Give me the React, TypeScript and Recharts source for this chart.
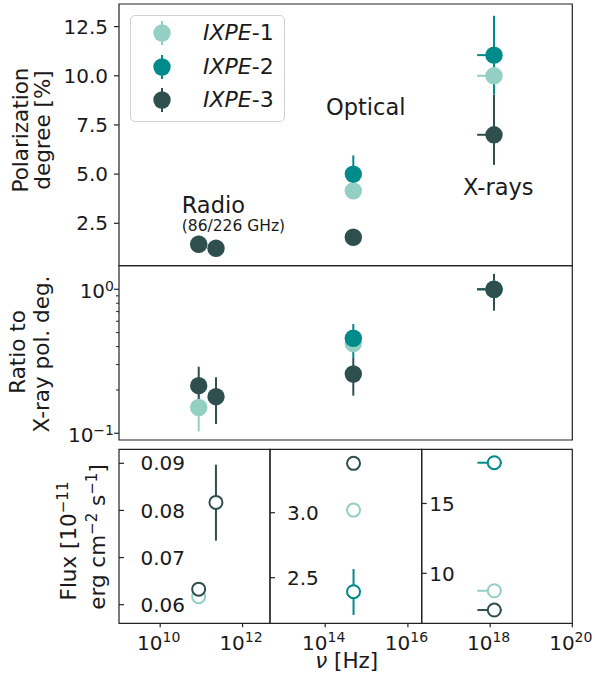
import React from 'react';
import { ScatterChart, Scatter, XAxis, YAxis, ErrorBar, ReferenceArea, ReferenceDot, Legend } from 'recharts';

const W = 595;
const H = 686;
const FONT = '"DejaVu Sans", sans-serif';
const INK = '#1a1a1a';
const FRAME = '#222222';

const SERIES = ['1', '2', '3'];
const COLORS = ['#94cfc4', '#008b8b', '#2f4f4f'];

// frequencies [Hz]
const NU_86 = 8.6e10;
const NU_226 = 2.26e11;
const NU_OPT = 4.85e14;
const NU_X = 1.26e18;
const X_BAND = [7.7e17, 6.7e17]; // 2-8 keV around NU_X
const NO_ERR = [0, 0];

// polarization degree [%]
const pd1 = [
  { nu: NU_86, v: 1.45, ey: [0.1, 0.1], ex: NO_ERR },
  { nu: NU_OPT, v: 4.15, ey: [0.3, 0.3], ex: NO_ERR },
  { nu: NU_X, v: 10.0, ey: [1.0, 1.0], ex: X_BAND },
];
const pd2 = [
  { nu: NU_OPT, v: 5.0, ey: [0.95, 0.95], ex: NO_ERR },
  { nu: NU_X, v: 11.05, ey: [2.0, 2.0], ex: X_BAND },
];
const pd3 = [
  { nu: NU_86, v: 1.43, ey: [0.1, 0.1], ex: NO_ERR },
  { nu: NU_226, v: 1.23, ey: [0.1, 0.1], ex: NO_ERR },
  { nu: NU_OPT, v: 1.79, ey: [0.2, 0.2], ex: NO_ERR },
  { nu: NU_X, v: 7.0, ey: [1.53, 2.03], ex: X_BAND },
];

// ratio to X-ray polarization degree
const ratio1 = [
  { nu: NU_86, v: 0.151, ey: [0.048, 0.05], ex: NO_ERR },
  { nu: NU_OPT, v: 0.42, ey: [0.05, 0.05], ex: NO_ERR },
  { nu: NU_X, v: 1.0, ey: NO_ERR, ex: X_BAND },
];
const ratio2 = [
  { nu: NU_OPT, v: 0.457, ey: [0.124, 0.117], ex: NO_ERR },
  { nu: NU_X, v: 1.0, ey: NO_ERR, ex: X_BAND },
];
const ratio3 = [
  { nu: NU_86, v: 0.214, ey: [0.05, 0.076], ex: NO_ERR },
  { nu: NU_226, v: 0.1795, ey: [0.0635, 0.0655], ex: NO_ERR },
  { nu: NU_OPT, v: 0.258, ey: [0.0755, 0.075], ex: NO_ERR },
  { nu: NU_X, v: 1.0, ey: [0.29, 0.28], ex: X_BAND },
];

// flux [1e-11 erg cm^-2 s^-1]
const flux1 = [
  { band: 'radio', nu: NU_86, v: 0.0617, ey: NO_ERR, ex: NO_ERR },
  { band: 'optical', nu: NU_OPT, v: 3.02, ey: NO_ERR, ex: NO_ERR },
  { band: 'xray', nu: NU_X, v: 8.75, ey: NO_ERR, ex: X_BAND },
];
const flux2 = [
  { band: 'optical', nu: NU_OPT, v: 2.392, ey: [0.179, 0.175], ex: NO_ERR },
  { band: 'xray', nu: NU_X, v: 17.92, ey: NO_ERR, ex: X_BAND },
];
const flux3 = [
  { band: 'radio', nu: NU_86, v: 0.0633, ey: NO_ERR, ex: NO_ERR },
  { band: 'radio', nu: NU_226, v: 0.0817, ey: [0.0081, 0.008], ex: NO_ERR },
  { band: 'optical', nu: NU_OPT, v: 3.38, ey: NO_ERR, ex: NO_ERR },
  { band: 'xray', nu: NU_X, v: 7.37, ey: NO_ERR, ex: X_BAND },
];

// ticks
const PD_TICKS = [2.5, 5.0, 7.5, 10.0, 12.5];
const RATIO_TICKS = [0.1, 0.2, 0.3, 0.4, 0.5, 0.6, 0.7, 0.8, 0.9, 1.0];
const RADIO_TICKS = [0.06, 0.07, 0.08, 0.09];
const OPT_TICKS = [2.5, 3.0];
const XRAY_TICKS = [10, 15];
const NU_TICKS_RADIO = [1e10, 1e12];
const NU_TICKS_OPT = [1e14, 1e16];
const NU_TICKS_XRAY = [1e18, 1e20];

// layout
const PLOT_L = 119;
const PLOT_R = 572.3;
const AXIS_W = 1;
const NU_MIN = 1e9;
const NU_MAX = 1e20;
const NU_CUT1 = Math.pow(10, 9 + 11 / 3);
const NU_CUT2 = Math.pow(10, 9 + 22 / 3);
const PD_DOMAIN = [0.343, 13.65];
const RATIO_DOMAIN = [0.0898, 1.458];

const NOTES = [
  { text: 'Radio', nu: 3.33e10, v: 3.43, anchor: 'start', size: 22.5 },
  { text: '(86/226 GHz)', nu: 3.33e10, v: 2.41, anchor: 'start', size: 15.5 },
  { text: 'Optical', nu: 9.7e14, v: 8.42, anchor: 'middle', size: 22.5 },
  { text: 'X-rays', nu: 1.6e18, v: 4.34, anchor: 'middle', size: 22.5 },
];

const sup = (e: number) => (e < 0 ? '\u2212' + Math.abs(e) : String(e));

const Blank = () => <g />;

const fullDot = (color: string) => (p: any) => <circle cx={p.cx} cy={p.cy} r={8.7} fill={color} />;
const openDot = (color: string) => (p: any) => (
  <circle cx={p.cx} cy={p.cy} r={6.5} fill="#ffffff" stroke={color} strokeWidth={2} />
);

const renderSeries = (sets: any[][], open: boolean) => [
  ...sets.map((data, i) => (
    <Scatter key={`bar${i}`} data={data} dataKey="v" shape={Blank} isAnimationActive={false} legendType="none">
      <ErrorBar dataKey="ey" direction="y" width={0} stroke={COLORS[i]} strokeWidth={2} isAnimationActive={false} />
      <ErrorBar dataKey="ex" direction="x" width={0} stroke={COLORS[i]} strokeWidth={2} isAnimationActive={false} />
    </Scatter>
  )),
  ...sets.map((data, i) => (
    <Scatter
      key={`pt${i}`}
      data={data}
      dataKey="v"
      shape={open ? openDot(COLORS[i]) : fullDot(COLORS[i])}
      isAnimationActive={false}
      legendType="none"
    />
  )),
];

const frame = (x1: number, x2: number, y: number[]) => (
  <ReferenceArea x1={x1} x2={x2} y1={y[0]} y2={y[1]} fill="none" stroke={FRAME} strokeWidth={1.2} ifOverflow="visible" />
);

const LeftTick = (fmt: (v: number) => string) => (p: any) => (
  <g>
    <line x1={p.x - 5} x2={p.x} y1={p.y} y2={p.y} stroke={FRAME} strokeWidth={1.2} />
    <text x={p.x - 11} y={p.y} dy="0.36em" textAnchor="end" fontSize={20} fontFamily={FONT} fill={INK}>
      {fmt(p.payload.value)}
    </text>
  </g>
);

const LogTick = (p: any) => {
  const e = Math.log10(p.payload.value);
  const major = Math.abs(e - Math.round(e)) < 1e-6;
  if (!major) {
    return <line x1={p.x - 3} x2={p.x} y1={p.y} y2={p.y} stroke={FRAME} strokeWidth={1} />;
  }
  return (
    <g>
      <line x1={p.x - 5} x2={p.x} y1={p.y} y2={p.y} stroke={FRAME} strokeWidth={1.2} />
      <text x={p.x - 5} y={p.y + 8.8} textAnchor="end" fontSize={20} fontFamily={FONT} fill={INK}>
        10<tspan dy={-7.5} fontSize={14}>{sup(Math.round(e))}</tspan>
      </text>
    </g>
  );
};

const InnerTick = (fmt: (v: number) => string, dx: number) => (p: any) => (
  <g>
    <line x1={p.x} x2={p.x + 5} y1={p.y} y2={p.y} stroke={FRAME} strokeWidth={1.2} />
    <text x={p.x + dx} y={p.y} dy="0.36em" textAnchor="start" fontSize={20} fontFamily={FONT} fill={INK}>
      {fmt(p.payload.value)}
    </text>
  </g>
);

const BottomTick = (p: any) => (
  <g>
    <line x1={p.x} x2={p.x} y1={p.y} y2={p.y + 4} stroke={FRAME} strokeWidth={1.2} />
    <text x={p.x - 1.5} y={p.y + 26.7} textAnchor="middle" fontSize={20} fontFamily={FONT} fill={INK}>
      10<tspan dy={-8.3} fontSize={14}>{sup(Math.round(Math.log10(p.payload.value)))}</tspan>
    </text>
  </g>
);

const titleStyle = { fontSize: 21.5, fontFamily: FONT, fill: INK, textAnchor: 'middle' as const };

const PdTitle = () => (
  <g>
    <text transform="translate(28.3,130) rotate(-90)" {...titleStyle}>Polarization</text>
    <text transform="translate(50,130) rotate(-90)" {...titleStyle}>degree [%]</text>
  </g>
);

const RatioTitle = () => (
  <g>
    <text transform="translate(25,352) rotate(-90)" {...titleStyle}>Ratio to</text>
    <text transform="translate(48.5,354) rotate(-90)" {...titleStyle}>X-ray pol. deg.</text>
  </g>
);

const FluxTitle = () => (
  <g>
    <text transform="translate(75.5,541) rotate(-90)" {...titleStyle}>
      Flux [10<tspan dy={-8} fontSize={15}>{'\u2212'}11</tspan>
    </text>
    <text transform="translate(105,537) rotate(-90)" {...titleStyle}>
      erg cm<tspan dy={-8} fontSize={15}>{'\u2212'}2</tspan>
      <tspan dy={8}> s</tspan>
      <tspan dy={-8} fontSize={15}>{'\u2212'}1</tspan>
      <tspan dy={8}>]</tspan>
    </text>
  </g>
);

const NuTitle = () => (
  <text x={346.7} y={668} textAnchor="middle" fontSize={21.5} fontFamily={FONT} fill={INK}>
    <tspan fontStyle="italic">ν</tspan> [Hz]
  </text>
);

const LegendBox = () => (
  <div
    style={{
      width: 155,
      height: 107,
      boxSizing: 'border-box',
      border: '1px solid #d0d0d0',
      borderRadius: 5,
      background: 'rgba(255,255,255,0.85)',
      paddingTop: 0.5,
    }}
  >
    {SERIES.map((s, i) => (
      <div key={s} style={{ display: 'flex', alignItems: 'center', height: 33.5 }}>
        <svg width={20} height={26} style={{ marginLeft: 20.7, display: 'block' }}>
          <line x1={10} x2={10} y1={1} y2={25} stroke={COLORS[i]} strokeWidth={2} />
          <circle cx={10} cy={13} r={8.7} fill={COLORS[i]} />
        </svg>
        <span style={{ marginLeft: 31.3, fontSize: 22, fontFamily: FONT, color: INK, lineHeight: 1 }}>
          <i>IXPE</i>-{s}
        </span>
      </div>
    ))}
  </div>
);

const noteLabel = (n: any) => ({
  content: (p: any) => (
    <text
      x={p.viewBox.x}
      y={p.viewBox.y}
      dy="0.36em"
      textAnchor={n.anchor}
      fontSize={n.size}
      fontFamily={FONT}
      fill={INK}
    >
      {n.text}
    </text>
  ),
});

const FLUX_PANELS = [
  { key: 'radio', left: PLOT_L, right: 270, xDomain: [NU_MIN, NU_CUT1], yDomain: [0.05605, 0.09297], yTicks: RADIO_TICKS, xTicks: NU_TICKS_RADIO, fmt: (v: number) => v.toFixed(2), dx: 21.5 },
  { key: 'optical', left: 270, right: 421.7, xDomain: [NU_CUT1, NU_CUT2], yDomain: [2.149, 3.488], yTicks: OPT_TICKS, xTicks: NU_TICKS_OPT, fmt: (v: number) => v.toFixed(1), dx: 17 },
  { key: 'xray', left: 421.7, right: PLOT_R, xDomain: [NU_CUT2, NU_MAX], yDomain: [6.42, 18.88], yTicks: XRAY_TICKS, xTicks: NU_TICKS_XRAY, fmt: (v: number) => String(v), dx: 7.5 },
];

const layer: React.CSSProperties = { position: 'absolute', left: 0, top: 0 };

export default function App() {
  return (
    <div style={{ position: 'absolute', left: 0, top: 0, width: W, height: H, background: '#ffffff' }}>
      <div style={layer}>
        <ScatterChart width={W} height={H} margin={{ top: 4, right: W - PLOT_R, bottom: H - 265.7, left: PLOT_L - AXIS_W }}>
          <XAxis dataKey="nu" type="number" scale="log" domain={[NU_MIN, NU_MAX]} allowDataOverflow hide />
          <YAxis
            dataKey="v"
            type="number"
            domain={PD_DOMAIN}
            allowDataOverflow
            width={AXIS_W}
            ticks={PD_TICKS}
            interval={0}
            tickSize={0}
            tickMargin={0}
            axisLine={false}
            tickLine={false}
            tick={LeftTick((v) => v.toFixed(1))}
            label={{ content: PdTitle }}
          />
          {frame(NU_MIN, NU_MAX, PD_DOMAIN)}
          {NOTES.map((n) => (
            <ReferenceDot key={n.text} x={n.nu} y={n.v} r={0} fill="none" stroke="none" ifOverflow="visible" label={noteLabel(n)} />
          ))}
          {renderSeries([pd1, pd2, pd3], false)}
          <Legend
            layout="vertical"
            align="center"
            verticalAlign="middle"
            wrapperStyle={{ left: 130, top: 15, width: 155, height: 107 }}
            content={LegendBox}
          />
        </ScatterChart>
      </div>

      <div style={layer}>
        <ScatterChart width={W} height={H} margin={{ top: 265.7, right: W - PLOT_R, bottom: H - 440, left: PLOT_L - AXIS_W }}>
          <XAxis dataKey="nu" type="number" scale="log" domain={[NU_MIN, NU_MAX]} allowDataOverflow hide />
          <YAxis
            dataKey="v"
            type="number"
            scale="log"
            domain={RATIO_DOMAIN}
            allowDataOverflow
            width={AXIS_W}
            ticks={RATIO_TICKS}
            interval={0}
            tickSize={0}
            tickMargin={0}
            axisLine={false}
            tickLine={false}
            tick={LogTick}
            label={{ content: RatioTitle }}
          />
          {frame(NU_MIN, NU_MAX, RATIO_DOMAIN)}
          {renderSeries([ratio1, ratio2, ratio3], false)}
        </ScatterChart>
      </div>

      {FLUX_PANELS.map((panel, k) => (
        <div key={panel.key} style={layer}>
          <ScatterChart
            width={W}
            height={H}
            margin={{ top: 449.3, right: W - panel.right, bottom: H - 623.3 - 50, left: panel.left - AXIS_W }}
          >
            <XAxis
              dataKey="nu"
              type="number"
              scale="log"
              domain={panel.xDomain}
              allowDataOverflow
              height={50}
              ticks={panel.xTicks}
              interval={0}
              tickSize={0}
              tickMargin={0}
              axisLine={false}
              tickLine={false}
              tick={BottomTick}
              label={k === 1 ? { content: NuTitle } : undefined}
            />
            <YAxis
              dataKey="v"
              type="number"
              domain={panel.yDomain}
              allowDataOverflow
              width={AXIS_W}
              ticks={panel.yTicks}
              interval={0}
              tickSize={0}
              tickMargin={0}
              axisLine={false}
              tickLine={false}
              tick={InnerTick(panel.fmt, panel.dx)}
              label={k === 0 ? { content: FluxTitle } : undefined}
            />
            {frame(panel.xDomain[0], panel.xDomain[1], panel.yDomain)}
            {renderSeries(
              [flux1, flux2, flux3].map((f) => f.filter((d) => d.band === panel.key)),
              true
            )}
          </ScatterChart>
        </div>
      ))}
    </div>
  );
}
